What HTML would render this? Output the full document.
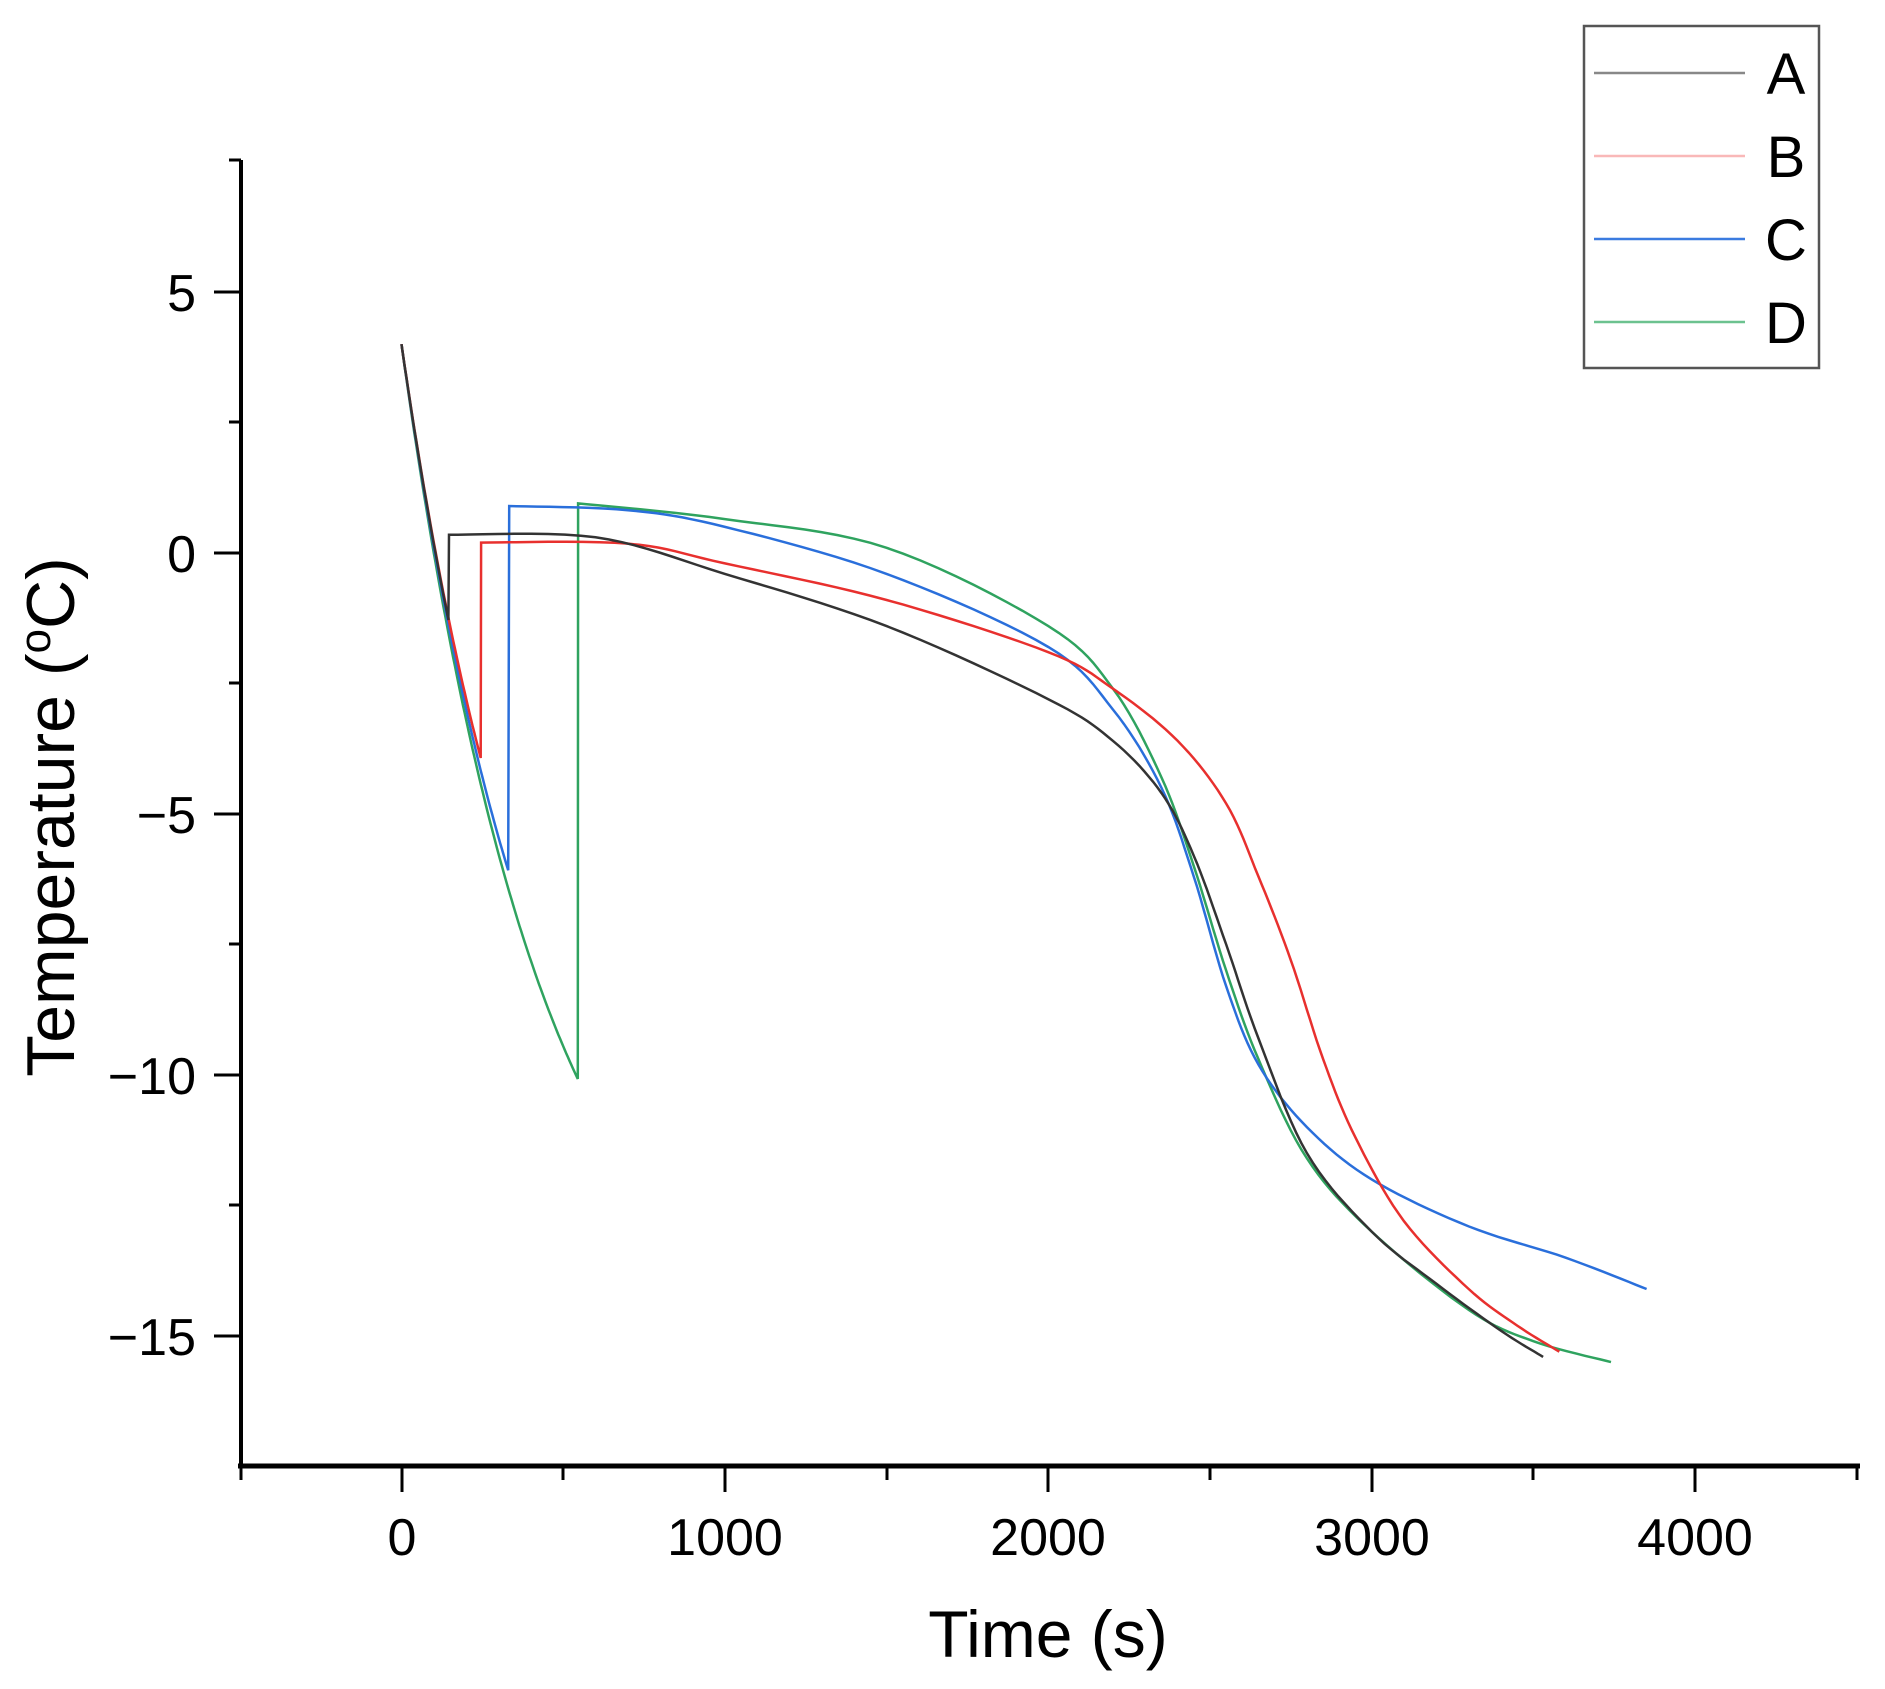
<!DOCTYPE html>
<html><head><meta charset="utf-8"><style>
html,body{margin:0;padding:0;background:#fff;}
svg{display:block;font-family:"Liberation Sans",Arial,sans-serif;}
</style></head><body>
<svg id="s" width="1885" height="1689" viewBox="0 0 1885 1689" xmlns="http://www.w3.org/2000/svg">
<rect width="1885" height="1689" fill="#fff"/>
<g stroke="#000" fill="none">
<line x1="241" y1="160" x2="241" y2="1468" stroke-width="4"/>
<line x1="238" y1="1466" x2="1860" y2="1466" stroke-width="5"/>
</g>
<g stroke="#000" stroke-width="3">
<line x1="229" y1="160" x2="241" y2="160"/>
<line x1="214" y1="292" x2="241" y2="292"/>
<line x1="229" y1="422" x2="241" y2="422"/>
<line x1="214" y1="553" x2="241" y2="553"/>
<line x1="229" y1="683" x2="241" y2="683"/>
<line x1="214" y1="814" x2="241" y2="814"/>
<line x1="229" y1="944" x2="241" y2="944"/>
<line x1="214" y1="1075" x2="241" y2="1075"/>
<line x1="229" y1="1205" x2="241" y2="1205"/>
<line x1="214" y1="1336" x2="241" y2="1336"/>
<line x1="241" y1="1466" x2="241" y2="1480"/>
<line x1="402" y1="1466" x2="402" y2="1492"/>
<line x1="563" y1="1466" x2="563" y2="1480"/>
<line x1="725" y1="1466" x2="725" y2="1492"/>
<line x1="887" y1="1466" x2="887" y2="1480"/>
<line x1="1048" y1="1466" x2="1048" y2="1492"/>
<line x1="1210" y1="1466" x2="1210" y2="1480"/>
<line x1="1372" y1="1466" x2="1372" y2="1492"/>
<line x1="1533" y1="1466" x2="1533" y2="1480"/>
<line x1="1695" y1="1466" x2="1695" y2="1492"/>
<line x1="1857" y1="1466" x2="1857" y2="1480"/>
</g>
<g font-size="52" fill="#000" text-anchor="end">
<text x="196" y="311">5</text>
<text x="196" y="572">0</text>
<text x="196" y="833">−5</text>
<text x="196" y="1094">−10</text>
<text x="196" y="1355">−15</text>
</g>
<g font-size="52" fill="#000" text-anchor="middle">
<text x="402" y="1555">0</text>
<text x="725" y="1555">1000</text>
<text x="1048" y="1555">2000</text>
<text x="1372" y="1555">3000</text>
<text x="1695" y="1555">4000</text>
</g>
<text x="1048" y="1657" font-size="66" text-anchor="middle">Time (s)</text>
<text transform="translate(74,817) rotate(-90)" font-size="68" text-anchor="middle">Temperature (<tspan font-size="44" dy="-24">o</tspan><tspan dy="24">C)</tspan></text>
<g id="curves" fill="none" stroke-width="2.5"></g>
<rect x="1584" y="26" width="235" height="342" fill="#fff" stroke="#555" stroke-width="2.5"/>
<g stroke-width="2.5">
<line x1="1594" y1="73" x2="1745" y2="73" stroke="#888"/>
<line x1="1594" y1="156" x2="1745" y2="156" stroke="#f9b8b8"/>
<line x1="1594" y1="239" x2="1745" y2="239" stroke="#3b7be0"/>
<line x1="1594" y1="322" x2="1745" y2="322" stroke="#6cc28f"/>
</g>
<g font-size="58" fill="#000" text-anchor="middle">
<text x="1786" y="94">A</text>
<text x="1786" y="177">B</text>
<text x="1786" y="260">C</text>
<text x="1786" y="343">D</text>
</g>
</svg>
<script>
(function(){
var X=function(t){return 401.5+t*0.3234;}, Y=function(T){return 553-T*52.2;};
function decay(t,off){return -16+20*Math.exp(-t/448)+off;}
var series=[
 {c:"#333",jt:147,off:0.25,pts:[[147,0.35],[600,0.3],[1000,-0.4],[1500,-1.4],[2000,-2.8],[2200,-3.6],[2350,-4.6],[2450,-5.8],[2550,-7.5],[2650,-9.3],[2800,-11.5],[3000,-13],[3200,-14],[3400,-14.9],[3530,-15.4]]},
 {c:"#e8302e",jt:246,off:0.5,pts:[[246,0.2],[700,0.18],[1000,-0.2],[1500,-0.9],[2000,-1.9],[2200,-2.6],[2400,-3.6],[2550,-4.8],[2650,-6.2],[2750,-7.8],[2850,-9.7],[2950,-11.2],[3100,-12.8],[3300,-14.1],[3450,-14.8],[3580,-15.3]]},
 {c:"#2a6fdb",jt:333,off:0.35,pts:[[333,0.9],[700,0.82],[1000,0.5],[1500,-0.4],[2000,-1.8],[2200,-3],[2350,-4.5],[2450,-6.2],[2550,-8.3],[2650,-9.8],[2800,-11],[3000,-12],[3300,-12.9],[3600,-13.5],[3850,-14.1]]},
 {c:"#2fa35f",jt:546,off:0,pts:[[546,0.95],[1000,0.65],[1500,0.1],[2000,-1.4],[2200,-2.6],[2350,-4.3],[2450,-6],[2550,-8],[2650,-9.7],[2800,-11.6],[3000,-13],[3300,-14.5],[3500,-15.1],[3740,-15.5]]}
];
var g=document.getElementById("curves"),ns="http://www.w3.org/2000/svg";
series.slice().reverse().forEach(function(s){
 var d="M"+X(0)+","+Y(4);
 for(var t=5;t<=s.jt;t+=5){var v=decay(t,s.off*t/s.jt);d+=" L"+X(t).toFixed(1)+","+Y(v).toFixed(1);}
 var p=s.pts;
 d+=" L"+X(p[0][0]).toFixed(1)+","+Y(p[0][1]).toFixed(1);
 for(var i=0;i<p.length-1;i++){
  var p0=p[Math.max(0,i-1)],p1=p[i],p2=p[i+1],p3=p[Math.min(p.length-1,i+2)];
  for(var k=1;k<=10;k++){var u=k/10,u2=u*u,u3=u2*u;
   var f=function(a,b,c,e){return 0.5*((2*b)+(-a+c)*u+(2*a-5*b+4*c-e)*u2+(-a+3*b-3*c+e)*u3);};
   d+=" L"+X(f(p0[0],p1[0],p2[0],p3[0])).toFixed(1)+","+Y(f(p0[1],p1[1],p2[1],p3[1])).toFixed(1);}
 }
 var el=document.createElementNS(ns,"path");el.setAttribute("d",d);el.setAttribute("stroke",s.c);g.appendChild(el);
});
})();
</script>
</body></html>
